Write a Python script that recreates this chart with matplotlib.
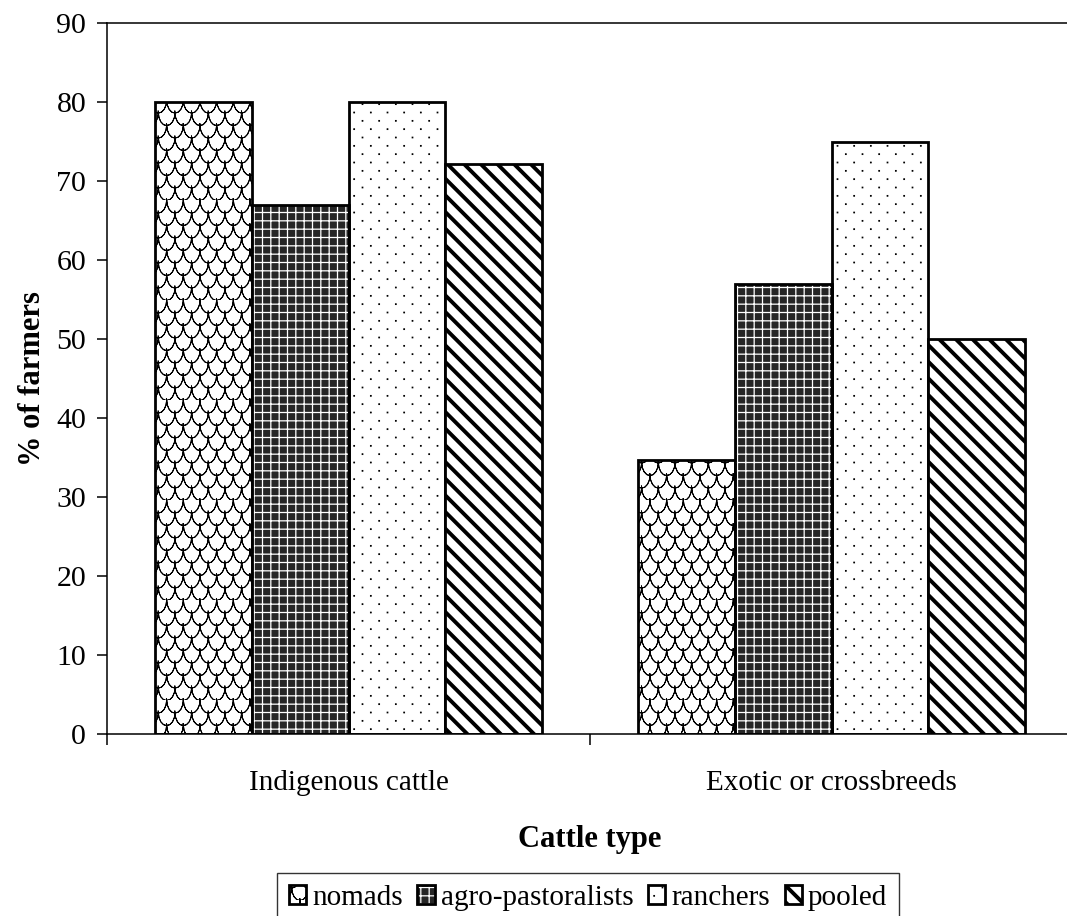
import numpy as np
import matplotlib
matplotlib.use("Agg")
import matplotlib.pyplot as plt
import matplotlib.hatch as mhatch
from matplotlib.path import Path
from matplotlib.legend_handler import HandlerTuple

# ---------------- data ----------------
categories = ["Indigenous cattle", "Exotic or crossbreeds"]
series_names = ["nomads", "agro-pastoralists", "ranchers", "pooled"]
nomads = [80, 34.7]
agro_pastoralists = [67, 57]
ranchers = [80, 75]
pooled = [72.2, 50]
y_ticks = [0, 10, 20, 30, 40, 50, 60, 70, 80, 90]
x_label = "Cattle type"
y_label = "% of farmers"


# ---------------- custom hatches ----------------
class ScalesHatch(mhatch.HatchPatternBase):
    """'*' -> overlapping fish-scale arcs."""
    npts = 9

    def __init__(self, hatch, density):
        n = hatch.count('*')
        self.cols = 6 * n
        self.rows = 8 * n
        if n == 0:
            self.num_vertices = 0
        else:
            self.n_arcs = (self.rows + 1) * (self.cols + 2)
            self.num_vertices = self.n_arcs * self.npts * 2

    def set_vertices_and_codes(self, vertices, codes):
        t = np.linspace(0, np.pi, self.npts)
        w = 1.0 / self.cols
        h = 1.0 / self.rows
        k = 0
        m = self.npts
        for r in range(self.rows + 1):
            yc = r * h
            off = 0.5 * w * (r % 2)
            for c in range(-1, self.cols + 1):
                xc = c * w + off + 0.5 * w
                xs = xc + 0.5 * w * np.cos(t)
                ys = yc - 1.05 * h * np.sin(t)
                vertices[k:k + m, 0] = xs
                vertices[k:k + m, 1] = ys
                vertices[k + m:k + 2 * m, 0] = xs[::-1]
                vertices[k + m:k + 2 * m, 1] = ys[::-1]
                codes[k:k + 2 * m] = Path.LINETO
                codes[k] = Path.MOVETO
                k += 2 * m


class SparseDots(mhatch.HatchPatternBase):
    """'o' -> small filled dots on a staggered lattice."""

    def __init__(self, hatch, density):
        n = hatch.count('o')
        self.cols = 6 * n
        self.rows = 12 * n
        if n == 0:
            self.num_vertices = 0
        else:
            self.n_dots = (self.rows + 1) * (self.cols + 2)
            self.num_vertices = self.n_dots * 5

    def set_vertices_and_codes(self, vertices, codes):
        w = 1.0 / self.cols
        h = 1.0 / self.rows
        s = 0.0045
        sq = np.array([[-s, -s], [s, -s], [s, s], [-s, s], [-s, -s]])
        k = 0
        for r in range(self.rows + 1):
            off = 0.5 * w * (r % 2)
            for c in range(-1, self.cols + 1):
                cx = c * w + off + 0.25 * w
                cy = r * h + 0.5 * h
                vertices[k:k + 5] = sq + [cx, cy]
                codes[k:k + 5] = [Path.MOVETO, Path.LINETO, Path.LINETO,
                                  Path.LINETO, Path.CLOSEPOLY]
                k += 5


new_types = []
for cls in mhatch._hatch_types:
    if cls is mhatch.Stars:
        new_types.append(ScalesHatch)
    elif cls is mhatch.SmallCircles:
        new_types.append(SparseDots)
    else:
        new_types.append(cls)
mhatch._hatch_types = new_types

plt.rcParams['font.family'] = ['Liberation Serif', 'DejaVu Serif']
plt.rcParams['hatch.linewidth'] = 1.0


def set_hlw(artist, lw):
    if hasattr(artist, 'set_hatch_linewidth'):
        artist.set_hatch_linewidth(lw)
    else:
        artist._hatch_linewidth = lw
    orig = artist.draw

    def draw(renderer, *args, **kwargs):
        with plt.rc_context({'hatch.linewidth': lw}):
            return orig(renderer, *args, **kwargs)
    artist.draw = draw


fig = plt.figure(figsize=(10.67, 9.16), dpi=100)
ax = fig.add_axes([107 / 1067, (916 - 734) / 916,
                   (1073 - 107) / 1067, (734 - 23) / 916])

x = np.arange(len(categories))
width = 0.2
offsets = [-1.5 * width, -0.5 * width, 0.5 * width, 1.5 * width]
edge_lw = 2.0


def make_bars(vals, off, hatch, hlw, face='white', edge='black', lw=edge_lw,
              fill=True, z=2):
    with plt.rc_context({'hatch.linewidth': hlw}):
        bars = ax.bar(x + off, vals, width, facecolor=face if fill else 'none',
                      edgecolor=edge, hatch=hatch, linewidth=lw, zorder=z,
                      fill=fill)
    for b in bars:
        set_hlw(b, hlw)
    return bars


HLW = {'nomads': 0.7, 'agro': 0.9, 'ranchers': 0.6, 'pooled': 2.8}

b_nom = make_bars(nomads, offsets[0], '*', HLW['nomads'])
b_agro_fill = make_bars(agro_pastoralists, offsets[1], '++', HLW['agro'],
                        face='#262626', edge='white', lw=0, z=2)
b_agro_edge = make_bars(agro_pastoralists, offsets[1], None, 1.0,
                        fill=False, z=3)
b_ran = make_bars(ranchers, offsets[2], 'o', HLW['ranchers'])
b_pool = make_bars(pooled, offsets[3], '\\\\', HLW['pooled'])

# axes styling
ax.set_xlim(-0.5, len(categories) - 0.5)
ax.set_ylim(0, 90)
ax.set_yticks(y_ticks)
ax.set_yticklabels([str(v) for v in y_ticks])
ax.set_xticks(np.arange(len(categories) + 1) - 0.5)
ax.set_xticklabels([])
ax.set_xticks(x, minor=True)
ax.set_xticklabels(categories, minor=True)
ax.tick_params(axis='x', which='major', direction='out', length=8, width=1.1)
ax.tick_params(axis='x', which='minor', length=0, pad=26, labelsize=21)
ax.tick_params(axis='y', direction='out', length=7, width=1.1, pad=8,
               labelsize=21.5)
for s in ['left', 'top', 'bottom']:
    ax.spines[s].set_linewidth(1.1)
ax.spines['right'].set_visible(False)

ax.set_xlabel(x_label, fontsize=22, fontweight='bold', labelpad=21)
ax.set_ylabel(y_label, fontsize=22, fontweight='bold', labelpad=7)

handles = [b_nom[0], (b_agro_fill[0], b_agro_edge[0]), b_ran[0], b_pool[0]]
leg = fig.legend(handles, series_names, loc='upper center',
                 bbox_to_anchor=(588 / 1067, 1 - 873 / 916),
                 bbox_transform=fig.transFigure, ncol=4, fontsize=21,
                 frameon=True, fancybox=False, edgecolor='black',
                 handlelength=0.6, handleheight=0.6, handletextpad=0.2,
                 columnspacing=0.5, borderpad=0.4, borderaxespad=0,
                 handler_map={tuple: HandlerTuple()})
leg.get_frame().set_linewidth(1.0)
for h, key in zip(leg.legend_handles, ['nomads', 'agro', 'ranchers', 'pooled']):
    if h is None:
        continue
    if isinstance(h, (list, tuple)):
        for hh in h:
            set_hlw(hh, HLW[key])
    else:
        set_hlw(h, HLW[key])

fig.savefig("out.png", dpi=100)
